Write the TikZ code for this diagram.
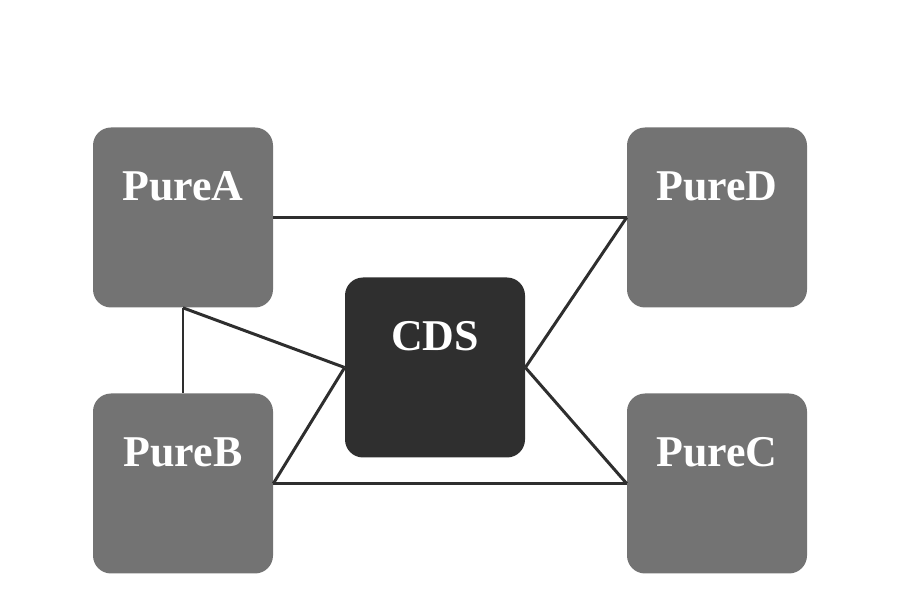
\documentclass[tikz,border=0pt]{standalone}
\usepackage{fontspec}
\setmainfont{Liberation Serif}
\usepackage{xcolor}
\usepackage{tikz}
\usetikzlibrary{positioning,calc}

\definecolor{puregray}{HTML}{737373}
\definecolor{cdsdark}{HTML}{2F2F2F}
\definecolor{linkgray}{HTML}{2E2E2E}

\tikzset{
    purebox/.style={fill=puregray, rounded corners=0.36cm, minimum width=3.6cm, minimum height=3.6cm, inner sep=0pt},
    cdsbox/.style={purebox, fill=cdsdark},
    boxtext/.style={anchor=base, text=white, font=\fontsize{25}{30}\selectfont\bfseries, inner sep=0pt},
    link/.style={draw=linkgray, line width=1.7pt}
}

\begin{document}
\begin{tikzpicture}
    \useasboundingbox (0,0) rectangle (18,12);

    % Boxes
    \node[purebox] (pureA) at (3.66,7.65) {};
    \node[purebox] (pureD) at (14.34,7.65) {};
    \node[purebox] (pureB) at (3.66,2.33) {};
    \node[purebox] (pureC) at (14.34,2.33) {};
    \node[cdsbox] (cds) at (8.70,4.65) {};

    % Labels
    \node[boxtext] (pureAtext) at ([yshift=-1.46cm]pureA.north) {PureA};
    \node[boxtext] (pureDtext) at ([yshift=-1.46cm]pureD.north) {PureD};
    \node[boxtext] (pureBtext) at ([yshift=-1.46cm]pureB.north) {PureB};
    \node[boxtext] (pureCtext) at ([yshift=-1.46cm]pureC.north) {PureC};
    \node[boxtext] (cdstext) at ([yshift=-1.46cm]cds.north) {CDS};

    % Links
    \draw[link] (pureA.east) -- (pureD.west);
    \draw[link] (pureD.west) -- (cds.east);
    \draw[link] (cds.east) -- (pureC.west);
    \draw[link] (pureB.east) -- (pureC.west);
    \draw[link] (pureB.east) -- (cds.west);
    \draw[link] (cds.west) -- (pureA.south);
    \draw[link] (pureA.south) -- (pureB.north);
\end{tikzpicture}
\end{document}
